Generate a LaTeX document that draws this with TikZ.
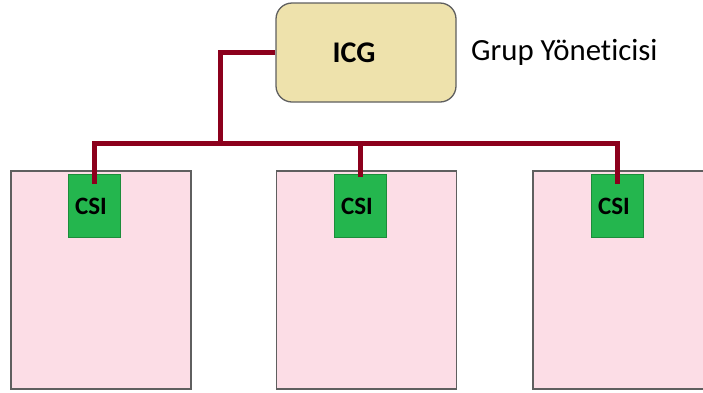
\documentclass[tikz,border=0pt]{standalone}
\usepackage{fontspec}
\setmainfont[Ligatures={NoCommon}]{Carlito}
\definecolor{linkred}{RGB}{140,0,28}
\definecolor{icgfill}{RGB}{238,226,172}
\definecolor{grppink}{RGB}{252,221,230}
\definecolor{csigreen}{RGB}{36,182,78}
\definecolor{csiedge}{RGB}{28,140,58}
\definecolor{edgegray}{RGB}{95,95,95}
\tikzset{
  grpbox/.style={draw=edgegray, line width=1.3pt, fill=grppink, minimum width=180pt, minimum height=218pt, inner sep=0pt},
  csibox/.style={draw=csiedge, line width=1pt, fill=csigreen, minimum width=52pt, minimum height=63pt, inner sep=0pt,
                 font=\fontsize{25}{27}\selectfont\bfseries},
  link/.style={draw=linkred, line width=5pt},
}
\begin{document}
\begin{tikzpicture}[x=1pt,y=-1pt]
			\useasboundingbox (0,0) rectangle (703,392);
			% group manager
			\node[draw=edgegray, line width=1.3pt, fill=icgfill, rounded corners=16pt, minimum width=180pt, minimum height=99pt,
			      label={[xshift=-12pt, font=\fontsize{30}{33}\selectfont\bfseries]center:ICG}] (icg) at (366,52.5){};
			\node[anchor=base west, inner sep=0pt, font=\fontsize{30.8}{33}\selectfont] (title) at (471,60){Grup Yöneticisi};
			% groups and their CSI
			\foreach\i/\x/\c in {1/101/94, 2/366.5/360, 3/623/617}{
				\node[grpbox] (grp\i) at (\x,280){};
				\node[csibox] (csi\i) at (\c,206){\hspace*{-6pt}CSI};
			}
			\coordinate (bus) at (220,143);
			\draw[link] (icg.west) -| (bus);
			\draw[link] ([yshift=-10pt]csi1.north) |- (bus) -| ([yshift=-10pt]csi3.north);
			\draw[link] ([yshift=-3pt]csi2.north) -- (csi2.north |- bus);
		\end{tikzpicture}
\end{document}
